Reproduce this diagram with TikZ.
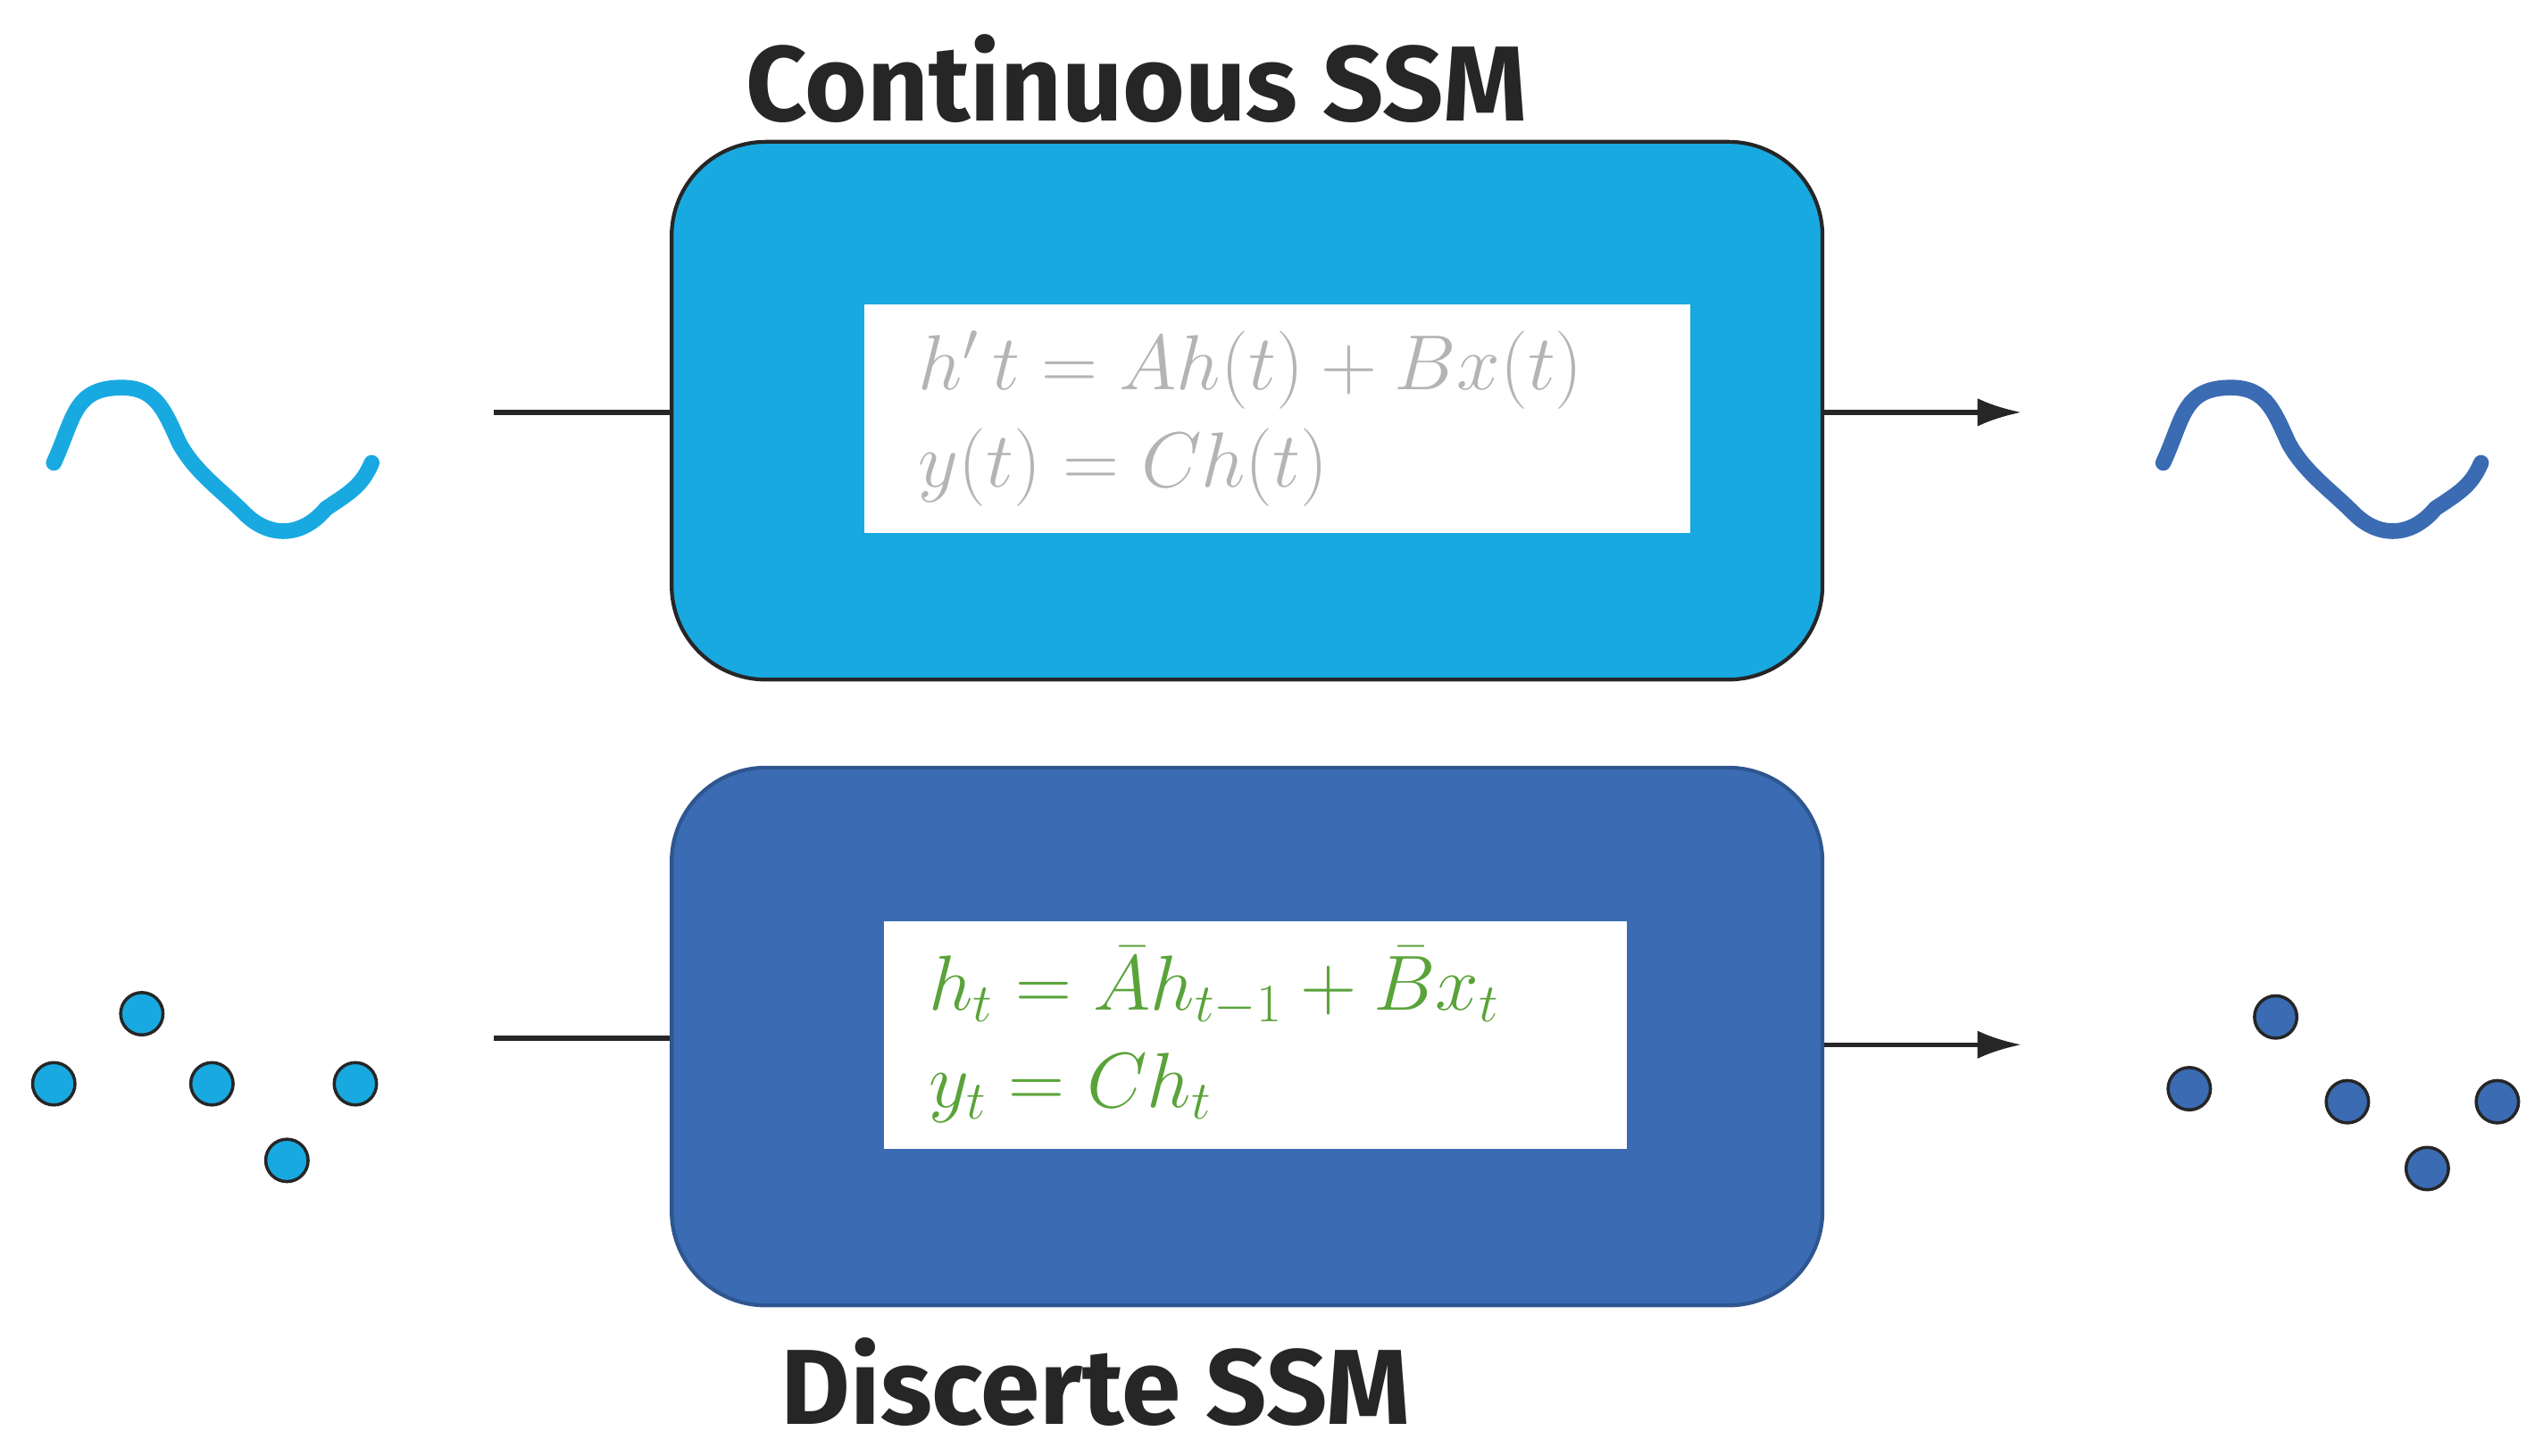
\documentclass[tikz,border=0pt]{standalone}
\usepackage{amsmath}
\usepackage{fontspec}
\setmainfont{Fira Sans}
\usetikzlibrary{arrows.meta, positioning}
\definecolor{cyanbox}{HTML}{19A9E1}
\definecolor{bluebox}{HTML}{3A6BB3}
\definecolor{eqgreen}{HTML}{5AA33A}
\definecolor{eqgray}{HTML}{B4B4B4}
\newcommand{\pxu}{*0.018256cm}
\tikzset{
  ssm/.style={draw, line width=1.2pt, rounded corners=30pt, minimum width=706\pxu, minimum height=330\pxu},
  eqbox/.style={fill=white, inner sep=0pt, align=left, font=\fontsize{27}{33}\selectfont},
  link/.style={line width=1.5pt, black!85},
  dot/.style={circle, draw=black!85, line width=1pt, minimum size=26\pxu, inner sep=0pt},
  title/.style={font=\fontsize{34}{38}\selectfont\bfseries, text=black!85},
}
\begin{document}
\begin{tikzpicture}[x=0.018256cm, y=-0.018256cm]
  \useasboundingbox (0,0) rectangle (1560,893);
  % continuous
  \node[ssm, fill=cyanbox, draw=black!85] (cbox) at (765,252) {};
  \node[eqbox, minimum width=507\pxu, minimum height=140\pxu, text=eqgray, text width=440\pxu] (ceq) at (783.5,257)
    {$h'\,t = Ah(t) + Bx(t)$\\[-2pt] $y(t) = Ch(t)$};
  \node[title] (ctitle) at (697,48) {Continuous SSM};
  \coordinate (cin) at (303,253);
  \coordinate (cout) at (1240,253);
  \draw[link] (cin) -- (cin -| cbox.west);
  \draw[link, -{Latex[length=14pt, width=9pt]}] (cout -| cbox.east) -- (cout);
  \draw[cyanbox, line width=5pt, line cap=round] (33,284) .. controls (45,258) and (45,240) .. (70,238)
    .. controls (95,236) and (100,250) .. (110,272) .. controls (120,290) and (135,300) .. (150,315)
    .. controls (165,330) and (185,330) .. (200,312) .. controls (215,302) and (222,298) .. (228,284);
  \draw[bluebox, line width=5pt, line cap=round] (1327,284) .. controls (1339,258) and (1339,240) .. (1364,238)
    .. controls (1389,236) and (1394,250) .. (1404,272) .. controls (1414,290) and (1429,300) .. (1444,315)
    .. controls (1459,330) and (1479,330) .. (1494,312) .. controls (1509,302) and (1516,298) .. (1522,284);
  % discrete
  \node[ssm, fill=bluebox, draw=bluebox!80!black] (dbox) at (765,636) {};
  \node[eqbox, minimum width=456\pxu, minimum height=140\pxu, text=eqgreen, text width=400\pxu] (deq) at (770,635)
    {$h_t = \bar{A}h_{t-1} + \bar{B}x_t$\\[-2pt] $y_t = Ch_t$};
  \node[title] (dtitle) at (672,848) {Discerte SSM};
  \coordinate (din) at (303,637);
  \coordinate (dout) at (1240,641);
  \draw[link] (din) -- (din -| dbox.west);
  \draw[link, -{Latex[length=14pt, width=9pt]}] (dout -| dbox.east) -- (dout);
  \foreach \px/\py [count=\i] in {33/665, 87/622, 130/665, 176/712, 218/665}
    \node[dot, fill=cyanbox] (xin\i) at (\px,\py) {};
  \foreach \px/\py [count=\i] in {1343/668, 1396/624, 1440/676, 1489/717, 1532/676}
    \node[dot, fill=bluebox] (yout\i) at (\px,\py) {};
\end{tikzpicture}
\end{document}
